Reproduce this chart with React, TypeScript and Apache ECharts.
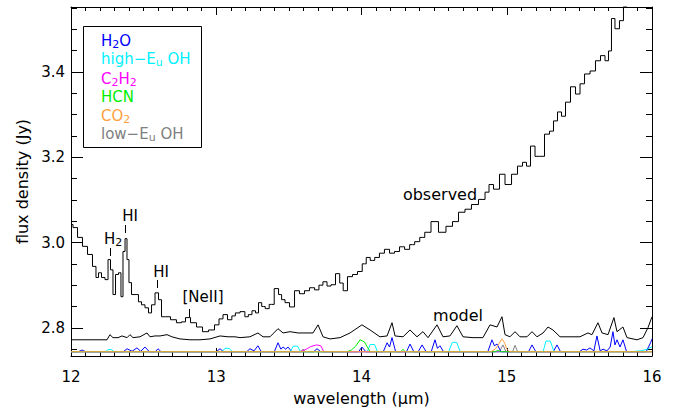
import React, { useEffect, useRef } from 'react';
import * as echarts from 'echarts';

const FONT = 'DejaVu Sans';

const observed: [number, number][] = [
  [12.000,3.042],[12.028,3.035],[12.062,3.012],[12.096,2.991],[12.131,2.972],[12.165,2.944],[12.179,2.918],[12.200,2.929],[12.220,2.918],[12.248,2.913],[12.262,2.960],[12.282,2.936],[12.296,2.878],[12.317,2.925],[12.337,2.929],[12.351,2.873],[12.365,2.979],[12.379,3.009],[12.392,2.960],[12.406,2.906],[12.427,2.878],[12.454,2.878],[12.475,2.861],[12.496,2.854],[12.523,2.847],[12.544,2.835],[12.565,2.854],[12.592,2.882],[12.613,2.866],[12.633,2.826],[12.668,2.826],[12.702,2.819],[12.750,2.812],[12.771,2.814],[12.806,2.824],[12.840,2.812],[12.888,2.802],[12.923,2.791],[12.971,2.795],[13.005,2.807],[13.033,2.821],[13.060,2.831],[13.095,2.819],[13.120,2.828],[13.143,2.835],[13.184,2.838],[13.210,2.826],[13.232,2.831],[13.260,2.840],[13.281,2.835],[13.301,2.859],[13.325,2.850],[13.349,2.845],[13.380,2.855],[13.418,2.892],[13.440,2.878],[13.460,2.866],[13.487,2.859],[13.522,2.849],[13.556,2.887],[13.590,2.880],[13.625,2.887],[13.660,2.894],[13.694,2.889],[13.720,2.900],[13.749,2.908],[13.776,2.898],[13.804,2.901],[13.838,2.927],[13.862,2.905],[13.886,2.887],[13.921,2.920],[13.955,2.925],[13.990,2.932],[14.020,2.950],[14.045,2.965],[14.075,2.958],[14.107,2.965],[14.140,2.975],[14.176,2.984],[14.210,2.975],[14.244,2.979],[14.280,2.990],[14.313,2.984],[14.350,2.995],[14.382,3.002],[14.420,3.012],[14.451,3.024],[14.506,3.049],[14.554,3.024],[14.609,3.038],[14.644,3.049],[14.692,3.071],[14.733,3.078],[14.781,3.089],[14.830,3.101],[14.871,3.118],[14.885,3.136],[14.933,3.125],[14.967,3.160],[15.009,3.136],[15.057,3.160],[15.091,3.179],[15.126,3.188],[15.146,3.179],[15.181,3.226],[15.208,3.202],[15.243,3.202],[15.277,3.254],[15.312,3.261],[15.332,3.285],[15.367,3.306],[15.387,3.296],[15.422,3.329],[15.456,3.365],[15.491,3.348],[15.518,3.372],[15.553,3.395],[15.594,3.402],[15.628,3.426],[15.663,3.438],[15.690,3.426],[15.711,3.449],[15.731,3.525],[15.759,3.501],[15.793,3.520],[15.814,3.553],[15.835,3.584]
];

const model: [number, number][] = [
  [12.000,2.772],[12.248,2.772],[12.268,2.784],[12.289,2.777],[12.324,2.777],[12.351,2.781],[12.386,2.777],[12.406,2.784],[12.427,2.777],[12.475,2.779],[12.523,2.788],[12.544,2.779],[12.578,2.781],[12.613,2.781],[12.661,2.784],[12.695,2.779],[12.750,2.774],[12.819,2.772],[12.888,2.772],[12.957,2.774],[13.026,2.781],[13.081,2.779],[13.129,2.779],[13.164,2.777],[13.232,2.779],[13.287,2.788],[13.322,2.779],[13.370,2.779],[13.425,2.798],[13.460,2.788],[13.508,2.791],[13.563,2.788],[13.625,2.788],[13.666,2.788],[13.701,2.807],[13.735,2.779],[13.783,2.774],[13.852,2.777],[13.921,2.788],[14.003,2.807],[14.059,2.795],[14.127,2.779],[14.176,2.781],[14.210,2.812],[14.231,2.781],[14.286,2.779],[14.334,2.795],[14.382,2.779],[14.423,2.791],[14.458,2.777],[14.520,2.807],[14.561,2.779],[14.609,2.781],[14.657,2.805],[14.699,2.779],[14.768,2.777],[14.836,2.777],[14.885,2.807],[14.933,2.802],[14.967,2.826],[14.988,2.784],[15.022,2.779],[15.057,2.791],[15.091,2.779],[15.139,2.779],[15.174,2.791],[15.208,2.779],[15.250,2.788],[15.284,2.802],[15.318,2.795],[15.367,2.779],[15.436,2.779],[15.504,2.779],[15.559,2.788],[15.587,2.784],[15.628,2.812],[15.656,2.788],[15.697,2.784],[15.738,2.824],[15.759,2.791],[15.800,2.802],[15.828,2.777],[15.897,2.772],[15.938,2.777],[15.972,2.800],[16.000,2.826]
];

const h2o: [number, number][] = [
  [12.0,2.744],[12.05,2.744],[12.076,2.748],[12.10,2.744],[12.36,2.744],[12.386,2.751],[12.42,2.745],[12.454,2.753],[12.48,2.745],[12.509,2.755],[12.54,2.744],[12.58,2.744],[12.599,2.751],[12.62,2.744],[13.00,2.744],[13.026,2.751],[13.05,2.744],[13.21,2.744],[13.232,2.751],[13.26,2.746],[13.287,2.758],[13.31,2.744],[13.40,2.744],[13.425,2.765],[13.445,2.750],[13.460,2.755],[13.478,2.750],[13.494,2.755],[13.52,2.744],[13.67,2.744],[13.694,2.751],[13.72,2.744],[13.98,2.744],[14.003,2.755],[14.03,2.744],[14.15,2.744],[14.176,2.765],[14.193,2.755],[14.210,2.777],[14.235,2.744],[14.31,2.744],[14.334,2.762],[14.36,2.744],[14.39,2.744],[14.417,2.760],[14.445,2.744],[14.48,2.744],[14.506,2.772],[14.523,2.752],[14.540,2.758],[14.565,2.744],[14.87,2.744],[14.898,2.772],[14.915,2.758],[14.933,2.762],[14.96,2.744],[15.15,2.744],[15.174,2.760],[15.20,2.744],[15.32,2.744],[15.346,2.760],[15.37,2.744],[15.50,2.744],[15.525,2.750],[15.55,2.748],[15.573,2.753],[15.60,2.746],[15.621,2.781],[15.643,2.746],[15.663,2.750],[15.69,2.746],[15.712,2.755],[15.731,2.791],[15.745,2.760],[15.759,2.772],[15.78,2.755],[15.800,2.772],[15.825,2.744],[15.96,2.744],[15.99,2.765],[16.0,2.774]
];

const highOH: [number, number][] = [
  [12.0,2.744],[12.24,2.744],[12.255,2.749],[12.28,2.749],[12.295,2.744],[13.04,2.744],[13.06,2.752],[13.09,2.752],[13.11,2.744],[13.51,2.744],[13.53,2.757],[13.56,2.757],[13.58,2.744],[14.04,2.744],[14.06,2.761],[14.09,2.761],[14.11,2.744],[14.60,2.744],[14.625,2.766],[14.655,2.766],[14.68,2.744],[15.25,2.744],[15.27,2.769],[15.30,2.769],[15.325,2.744],[15.85,2.744],[15.92,2.746],[15.97,2.750],[16.0,2.756]
];

const c2h2: [number, number][] = [
  [12.0,2.744],[13.58,2.744],[13.62,2.750],[13.65,2.756],[13.69,2.760],[13.72,2.758],[13.74,2.744],[16.0,2.744]
];

const hcn: [number, number][] = [
  [12.0,2.744],[13.90,2.744],[13.93,2.748],[13.96,2.757],[13.99,2.772],[14.02,2.767],[14.04,2.755],[14.06,2.744],[14.27,2.744],[14.286,2.750],[14.30,2.744],[14.92,2.744],[14.94,2.747],[14.96,2.744],[16.0,2.744]
];

const co2: [number, number][] = [
  [12.0,2.744],[14.89,2.744],[14.92,2.750],[14.945,2.762],[14.967,2.774],[14.985,2.765],[15.00,2.750],[15.02,2.744],[16.0,2.744]
];

const lowOH: [number, number][] = [
  [12.0,2.744],[13.58,2.744],[13.597,2.750],[13.615,2.744],[14.95,2.744],[14.974,2.760],[14.995,2.744],[15.04,2.744],[15.057,2.759],[15.075,2.744],[16.0,2.744]
];

const X_MIN = 12;
const X_MAX = 16;
const Y_MIN = 2.734;
const Y_MAX = 3.552;
const yMajorTicks = [2.8, 3.0, 3.2, 3.4];
const yMinorTicks = [2.75, 2.85, 2.9, 2.95, 3.05, 3.1, 3.15, 3.25, 3.3, 3.35, 3.45, 3.5, 3.55];

const COLORS = {
  h2o: '#0000ff',
  highOH: '#00f0ff',
  c2h2: '#ff00ff',
  hcn: '#00ee00',
  co2: '#ffa040',
  lowOH: '#808080',
};

const legendItems = [
  { text: '{n|H}{s|2}{n|O}', color: COLORS.h2o },
  { text: '{n|high\u2212E}{s|u}{n| OH}', color: COLORS.highOH },
  { text: '{n|C}{s|2}{n|H}{s|2}', color: COLORS.c2h2 },
  { text: '{n|HCN}', color: COLORS.hcn },
  { text: '{n|CO}{s|2}', color: COLORS.co2 },
  { text: '{n|low\u2212E}{s|u}{n| OH}', color: COLORS.lowOH },
];

function rich(color: string) {
  return {
    n: { fontSize: 15, lineHeight: 18, verticalAlign: 'middle', fontFamily: FONT, fill: color },
    s: { fontSize: 11, lineHeight: 10, verticalAlign: 'bottom', fontFamily: FONT, fill: color },
  };
}

export default function App() {
  const ref = useRef<HTMLDivElement>(null);
  useEffect(() => {
    document.body.style.margin = '0';
    if (!ref.current) return;
    const chart = echarts.init(ref.current, undefined, { renderer: 'svg' });

    const line = (name: string, data: [number, number][], color: string, step: any) => ({
      type: 'line',
      name,
      data,
      symbol: 'none',
      step,
      clip: true,
      silent: true,
      lineStyle: { color, width: 1 },
      itemStyle: { color },
      z: 3,
    });

    const axisLine = { show: true, onZero: false, lineStyle: { color: '#000', width: 1 } };
    const xBase = {
      type: 'value',
      min: X_MIN,
      max: X_MAX,
      interval: 1,
      axisLine,
      axisTick: { show: true, inside: true, length: 8, lineStyle: { color: '#000' } },
      minorTick: { show: true, splitNumber: 10, length: 4, lineStyle: { color: '#000' } },
      splitLine: { show: false },
      minorSplitLine: { show: false },
    };
    const yBase = {
      type: 'value',
      min: Y_MIN,
      max: Y_MAX,
      splitLine: { show: false },
    };

    const legendGraphics: any[] = [
      {
        type: 'rect',
        shape: { x: 83.5, y: 26.5, width: 118, height: 121 },
        style: { fill: '#fff', stroke: '#000', lineWidth: 1 },
        z: 10,
      },
    ];
    const legendY = [40.5, 59, 78.5, 96.5, 115.5, 133.5];
    legendItems.forEach((it, i) => {
      legendGraphics.push({
        type: 'text',
        x: 101,
        y: legendY[i],
        z: 11,
        style: {
          text: it.text,
          rich: rich(it.color),
          fill: it.color,
          align: 'left',
          verticalAlign: 'middle',
        },
      });
    });

    const txt = (text: string, x: number, y: number, extra: any = {}) => ({
      type: 'text',
      x,
      y,
      z: 11,
      style: {
        text,
        fontFamily: FONT,
        fontSize: 15,
        fill: '#000',
        align: 'center',
        verticalAlign: 'middle',
        ...extra,
      },
    });
    const tick = (x: number, y1: number, y2: number) => ({
      type: 'line',
      z: 11,
      shape: { x1: x, y1, x2: x, y2 },
      style: { stroke: '#000', lineWidth: 1 },
    });

    const yLabel: any = txt('flux density (Jy)', 22, 181.5, { fontSize: 16 });
    yLabel.rotation = Math.PI / 2;

    const annotations: any[] = [
      { type: 'text', x: 113, y: 239, z: 11, style: { text: '{n|H}{s|2}', rich: rich('#000'), align: 'center', verticalAlign: 'middle' } },
      tick(110.5, 248, 256),
      txt('HI', 130, 216),
      tick(125.5, 225, 233),
      txt('HI', 161, 272),
      tick(157.5, 280, 288),
      txt('[NeII]', 203, 297),
      tick(189.5, 309, 317),
      txt('observed', 440, 194, { fontSize: 16 }),
      txt('model', 458, 315, { fontSize: 16 }),
      yLabel,
      txt('wavelength (\u03bcm)', 361.5, 398, { fontSize: 16 }),
    ];

    const option: any = {
      animation: false,
      backgroundColor: '#fff',
      grid: { left: 71, right: 31, top: 7, bottom: 54, containLabel: false, outerBoundsMode: 'none' },
      xAxis: [
        {
          ...xBase,
          position: 'bottom',
          axisLabel: { show: true, fontSize: 15, color: '#000', margin: 13, fontFamily: FONT, formatter: (v: number) => String(Math.round(v)) },
        },
        {
          ...xBase,
          position: 'top',
          axisLabel: { show: false },
        },
      ],
      yAxis: [
        {
          ...yBase,
          position: 'left',
          axisLine,
          axisTick: { show: true, inside: true, length: 12, customValues: yMajorTicks, lineStyle: { color: '#000' } },
          axisLabel: { show: true, customValues: yMajorTicks, fontSize: 15, color: '#000', margin: 6, fontFamily: FONT, formatter: (v: number) => v.toFixed(1) },
        },
        {
          ...yBase,
          position: 'left',
          axisLine: { show: false },
          axisTick: { show: true, inside: true, length: 6, customValues: yMinorTicks, lineStyle: { color: '#000' } },
          axisLabel: { show: false },
        },
        {
          ...yBase,
          position: 'right',
          axisLine,
          axisTick: { show: true, inside: true, length: 12, customValues: yMajorTicks, lineStyle: { color: '#000' } },
          axisLabel: { show: false },
        },
        {
          ...yBase,
          position: 'right',
          axisLine: { show: false },
          axisTick: { show: true, inside: true, length: 6, customValues: yMinorTicks, lineStyle: { color: '#000' } },
          axisLabel: { show: false },
        },
      ],
      series: [
        line('low-Eu OH', lowOH, COLORS.lowOH, false),
        line('H2O', h2o, COLORS.h2o, false),
        line('high-Eu OH', highOH, COLORS.highOH, false),
        line('C2H2', c2h2, COLORS.c2h2, false),
        line('HCN', hcn, COLORS.hcn, false),
        line('CO2', co2, COLORS.co2, false),
        line('model', model, '#000', false),
        line('observed', observed, '#000', 'middle'),
      ],
      graphic: [...legendGraphics, ...annotations],
    };
    chart.setOption(option);
    return () => chart.dispose();
  }, []);
  return <div ref={ref} style={{ position: 'absolute', left: 0, top: 0, width: 683, height: 410 }} />;
}
